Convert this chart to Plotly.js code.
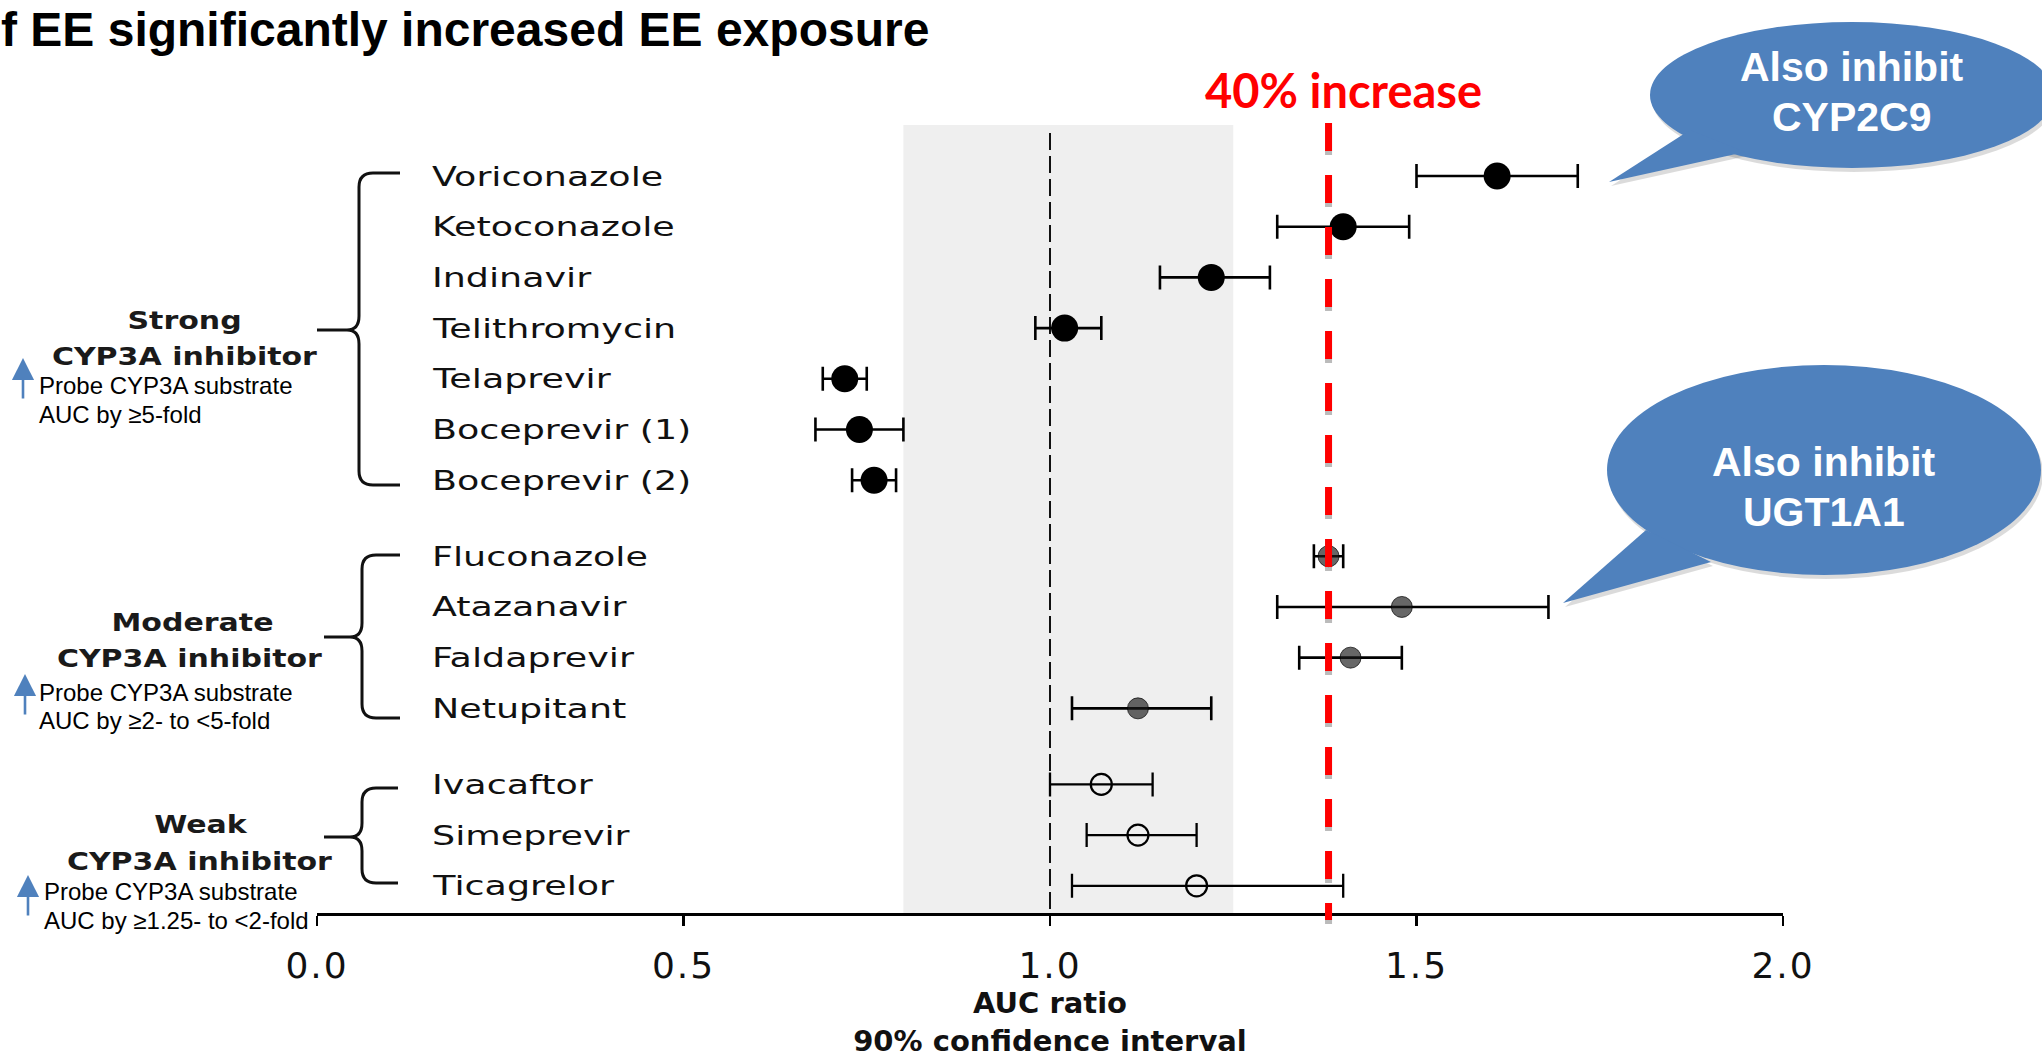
<!DOCTYPE html>
<html>
<head>
<meta charset="utf-8">
<script src="https://cdn.plot.ly/plotly-3.0.1.min.js"></script>
<style>
html,body{margin:0;padding:0;background:#fff;overflow:hidden}
#chart{width:2042px;height:1058px}
.xtick text{letter-spacing:2px}
</style>
</head>
<body>
<div id="chart"></div>
<script>
// ---------------- data ----------------
const drugs = ['Voriconazole','Ketoconazole','Indinavir','Telithromycin','Telaprevir','Boceprevir (1)','Boceprevir (2)',
               'Fluconazole','Atazanavir','Faldaprevir','Netupitant',
               'Ivacaftor','Simeprevir','Ticagrelor'];
const drug_group = [0,0,0,0,0,0,0, 1,1,1,1, 2,2,2];
const auc_ratio = [1.61, 1.40, 1.22, 1.02, 0.72, 0.74, 0.76, 1.38, 1.48, 1.41, 1.12, 1.07, 1.12, 1.20];
const ci_low    = [1.50, 1.31, 1.15, 0.98, 0.69, 0.68, 0.73, 1.36, 1.31, 1.34, 1.03, 1.00, 1.05, 1.03];
const ci_high   = [1.72, 1.49, 1.30, 1.07, 0.75, 0.80, 0.79, 1.40, 1.68, 1.48, 1.22, 1.14, 1.20, 1.40];
const group_names = ['Strong','Moderate','Weak'];
const group_subtitle = 'CYP3A inhibitor';
const probe_line1 = 'Probe CYP3A substrate';
const probe_line2 = ['AUC by \u22655-fold','AUC by \u22652- to &lt;5-fold','AUC by \u22651.25- to &lt;2-fold'];
const tick_values = [0, 0.5, 1.0, 1.5, 2.0];
const tick_labels = ['0.0','0.5','1.0','1.5','2.0'];
const be_limits = [0.8, 1.25];
const no_effect = 1.0;
const increase_line = 1.38;
const increase_label = '40% increase';
const title_text = 'f EE significantly increased EE exposure';
const callouts = [['Also inhibit','CYP2C9'],['Also inhibit','UGT1A1']];

// ---------------- geometry helpers ----------------
const W = 2042, H = 1058;
const L = 317, R = 1783, T = 120, B = 913;
const X = px => (px - L) / (R - L);
const Y = py => (B - py) / (B - T);
const row0 = 176, rowH = 50.7;
const rowPos = drugs.map((d, i) => i + drug_group[i] * 0.5);
const yRange = [(B - row0) / rowH, (T - row0) / rowH];

// ---------------- traces ----------------
const markerStyles = [
  {symbol:'circle', size:27, color:'#000', line:{width:0}},
  {symbol:'circle', size:21, color:'rgba(25,25,25,0.66)', line:{width:1, color:'rgba(0,0,0,0.7)'}},
  {symbol:'circle-open', size:21, color:'#000', line:{width:2.2}}
];
const data = group_names.map((g, gi) => {
  const idx = drugs.map((d, i) => i).filter(i => drug_group[i] === gi);
  return {
    type:'scatter', mode:'markers', name:g,
    x: idx.map(i => auc_ratio[i]),
    y: idx.map(i => rowPos[i]),
    text: idx.map(i => drugs[i]),
    marker: markerStyles[gi],
    error_x: {type:'data', symmetric:false,
      array: idx.map(i => +(ci_high[i] - auc_ratio[i]).toFixed(3)),
      arrayminus: idx.map(i => +(auc_ratio[i] - ci_low[i]).toFixed(3)),
      color:'#000', thickness: gi === 2 ? 2.3 : 2.6, width:12},
    cliponaxis:false, showlegend:false, hoverinfo:'x+text'
  };
});

// ---------------- annotations ----------------
const annotations = [];
const stretch = [];
function addAnn(a, s){ annotations.push(Object.assign({showarrow:false, xref:'paper', yref:'paper'}, a)); stretch.push(s || null); }

// drug labels
drugs.forEach((d, i) => addAnn({xref:'paper', yref:'y', x:X(430), y:rowPos[i], text:d,
  xanchor:'left', align:'left', yanchor:'middle',
  font:{family:'DejaVu Sans', size:27, color:'#111'}}, {k:1.35, o:'left center'}));

// group labels
const grpLbl = [
  {c1:[184,320], c2:[185,356], p:[37,385,414], a:[23,358,400]},
  {c1:[192,622], c2:[190,658], p:[37,692,720], a:[25,674,716]},
  {c1:[201,824], c2:[200,861], p:[42,891,920], a:[28,875,917]}
];
group_names.forEach((g, gi) => {
  const q = grpLbl[gi];
  addAnn({x:X(q.c1[0]), y:Y(q.c1[1]), text:g, xanchor:'center', yanchor:'middle',
    font:{family:'DejaVu Sans', size:25, weight:700, color:'#1a1a1a'}}, {k:1.2, o:'center'});
  addAnn({x:X(q.c2[0]), y:Y(q.c2[1]), text:group_subtitle, xanchor:'center', yanchor:'middle',
    font:{family:'DejaVu Sans', size:25, weight:700, color:'#1a1a1a'}}, {k:1.2, o:'center'});
  addAnn({x:X(q.p[0]), y:Y(q.p[1]), text:probe_line1, xanchor:'left', align:'left', yanchor:'middle',
    font:{family:'Liberation Sans, Arial', size:24, color:'#000'}});
  addAnn({x:X(q.p[0]), y:Y(q.p[2]), text:probe_line2[gi], xanchor:'left', align:'left', yanchor:'middle',
    font:{family:'Liberation Sans, Arial', size:24, color:'#000'}});
  addAnn({x:X(q.a[0]), y:Y(q.a[1]), text:'', showarrow:true, ax:0, ay:q.a[2]-q.a[1], axref:'pixel', ayref:'pixel',
    arrowhead:2, arrowsize:1.7, arrowwidth:2.6, arrowcolor:'#4f81bd', standoff:0, startstandoff:0});
});

// title
addAnn({x:X(-1), y:Y(30), text:title_text, xanchor:'left', yanchor:'middle',
  font:{family:'Liberation Sans, Arial', size:48, weight:700, color:'#000'}});
// 40% increase
addAnn({x:X(1343), y:Y(90), text:increase_label, xanchor:'center', yanchor:'middle',
  font:{family:'Lato, Open Sans', size:47, weight:700, color:'#ff0000'}});
// callout texts
const calloutPos = [[1852,67,117],[1824,462,512]];
callouts.forEach((c, ci) => {
  const p = calloutPos[ci];
  addAnn({x:X(p[0]), y:Y(p[1]), text:c[0], xanchor:'center', yanchor:'middle',
    font:{family:'Liberation Sans, Arial', size:41, weight:700, color:'#fff'}});
  addAnn({x:X(p[0]), y:Y(p[2]), text:c[1], xanchor:'center', yanchor:'middle',
    font:{family:'Liberation Sans, Arial', size:41, weight:700, color:'#fff'}});
});

// ---------------- shapes ----------------
const shapes = [];
// bioequivalence band
shapes.push({type:'rect', xref:'x', yref:'paper', x0:be_limits[0], x1:be_limits[1], y0:0, y1:Y(125),
  fillcolor:'#efefef', line:{width:0}, layer:'below'});
// no-effect line
shapes.push({type:'line', xref:'x', yref:'paper', x0:no_effect, x1:no_effect, y0:Y(133), y1:0,
  line:{color:'#111', width:2, dash:'17px,6px'}, layer:'below'});
// 40% increase line (shadow + red)
shapes.push({type:'line', xref:'x', yref:'paper', x0:increase_line, x1:increase_line, y0:Y(127), y1:Y(924),
  line:{color:'rgba(120,120,120,0.5)', width:7, dash:'28px,24px'}, layer:'above'});
shapes.push({type:'line', xref:'x', yref:'paper', x0:increase_line, x1:increase_line, y0:Y(123), y1:Y(920),
  line:{color:'#ff0000', width:7, dash:'28px,24px'}, layer:'above'});

// braces
function P(px, py){ return X(px).toFixed(5) + ',' + Y(py).toFixed(5); }
function brace(xv, top, bot, mid, nose, hook){
  const r = 14, n = 12;
  return 'M' + P(hook, top) + ' L' + P(xv + r, top) + ' Q' + P(xv, top) + ' ' + P(xv, top + r) +
         ' L' + P(xv, mid - r) + ' Q' + P(xv, mid) + ' ' + P(xv - n, mid) + ' L' + P(nose, mid) +
         ' L' + P(xv - n, mid) + ' Q' + P(xv, mid) + ' ' + P(xv, mid + r) +
         ' L' + P(xv, bot - r) + ' Q' + P(xv, bot) + ' ' + P(xv + r, bot) + ' L' + P(hook, bot);
}
const braceGeom = [[359,173,485,330,317,400],[362,555,718,637,324,400],[362,788,883,837,324,398]];
braceGeom.forEach(b => shapes.push({type:'path', xref:'paper', yref:'paper', path:brace(...b),
  line:{color:'#111', width:3}, layer:'above'}));

// speech bubbles
function bubble(cx, cy, rx, ry, tail, color){
  return [
    {type:'circle', xref:'paper', yref:'paper', x0:X(cx-rx), x1:X(cx+rx), y0:Y(cy+ry), y1:Y(cy-ry),
      fillcolor:color, line:{width:0}, layer:'above'},
    {type:'path', xref:'paper', yref:'paper', path:'M' + P(tail[0][0],tail[0][1]) + ' L' + P(tail[1][0],tail[1][1]) + ' L' + P(tail[2][0],tail[2][1]) + ' Z',
      fillcolor:color, line:{width:0}, layer:'above'}
  ];
}
const bub = [
  {c:[1852,95,202,73], t:[[1690,130],[1609,182],[1745,152]]},
  {c:[1824,470,217,105], t:[[1646,530],[1563,603],[1711,562]]}
];
bub.forEach(b => {
  const sh = (x) => [x[0]+2, x[1]+4];
  shapes.push(...bubble(b.c[0]+2, b.c[1]+4, b.c[2], b.c[3], b.t.map(sh), 'rgba(0,0,0,0.14)'));
  shapes.push(...bubble(b.c[0], b.c[1], b.c[2], b.c[3], b.t, '#4f81bd'));
});

// ---------------- layout ----------------
const layout = {
  width: W, height: H,
  margin: {l:L, r:W-R, t:T, b:H-B, pad:0},
  paper_bgcolor:'#fff', plot_bgcolor:'#fff',
  showlegend:false,
  xaxis: {
    range:[0,2], tickvals:tick_values, ticktext:tick_labels,
    showline:true, linecolor:'#000', linewidth:2.6, mirror:false,
    ticks:'outside', ticklen:10, tickwidth:2.6, tickcolor:'#000',
    showgrid:false, zeroline:false, fixedrange:true,
    tickfont:{family:'DejaVu Sans', size:36, color:'#111'},
    ticklabelstandoff:9,
    title:{text:'AUC ratio<br>90% confidence interval', standoff:21,
      font:{family:'DejaVu Sans', size:29, weight:700, color:'#111'}}
  },
  yaxis: {range:yRange, visible:false, showgrid:false, zeroline:false, fixedrange:true},
  shapes: shapes,
  annotations: annotations
};

const gd = document.getElementById('chart');
Plotly.newPlot(gd, data, layout, {staticPlot:true, displayModeBar:false}).then(() => {
  gd.querySelectorAll('g.annotation').forEach(g => {
    const i = +g.getAttribute('data-index');
    const s = stretch[i];
    if (!s) return;
    const t = g.querySelector('text.annotation-text');
    if (!t) return;
    t.style.transformBox = 'fill-box';
    t.style.transformOrigin = s.o;
    t.style.transform = 'scaleX(' + s.k + ')';
  });
});
</script>
</body>
</html>
